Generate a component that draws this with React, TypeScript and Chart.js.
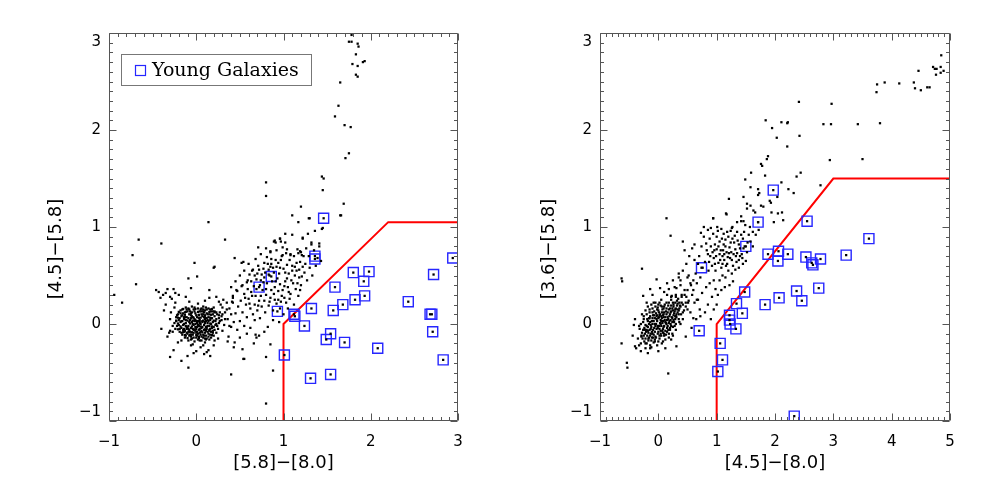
import React, { useEffect, useRef } from "react";
import { Chart, registerables } from "chart.js";
Chart.register(...registerables);

type P = [number, number];

// ---------- axis settings ----------
const leftXRange: P = [-1, 3];
const rightXRange: P = [-1, 5];
const yRange: P = [-1, 3];
const leftXTitle = "[5.8]\u2212[8.0]";
const leftYTitle = "[4.5]\u2212[5.8]";
const rightXTitle = "[4.5]\u2212[8.0]";
const rightYTitle = "[3.6]\u2212[5.8]";
const legendLabel = "Young Galaxies";

// ---------- red selection boundaries ----------
const leftBoundaryX = [1, 1, 2.2, 3];
const leftBoundaryY = [-1.05, 0, 1.05, 1.05];
const rightBoundaryX = [1, 1, 3, 5];
const rightBoundaryY = [-1.05, 0, 1.5, 1.5];

// ---------- LEFT PANEL: [5.8]-[8.0] vs [4.5]-[5.8] ----------
const leftYoung: P[] = [
  [1.46, 1.09], [1.36, 0.70], [1.36, 0.67], [0.86, 0.49], [0.72, 0.38], [0.93, 0.13], [1.12, 0.10], [1.13, 0.08],
  [1.24, -0.02], [1.32, 0.16], [1.01, -0.32], [1.31, -0.56], [1.54, -0.52], [1.49, -0.16], [1.54, -0.10], [1.70, -0.19],
  [1.57, 0.14], [1.59, 0.38], [1.68, 0.20], [1.80, 0.53], [1.82, 0.25], [1.92, 0.44], [1.98, 0.54], [1.93, 0.29],
  [2.08, -0.25], [2.43, 0.23], [2.72, 0.51], [2.68, 0.10], [2.70, 0.10], [2.71, -0.08], [2.83, -0.37], [2.94, 0.68],
];

const leftCluster: P[] = [
  [-0.12, 0.17], [-0.05, 0.18], [0.02, 0.16], [0.08, 0.18], [0.14, 0.16], [0.20, 0.17],
  [-0.18, 0.14], [-0.10, 0.13], [-0.03, 0.15], [0.04, 0.13], [0.10, 0.14], [0.17, 0.13], [0.23, 0.12],
  [-0.21, 0.10], [-0.15, 0.11], [-0.08, 0.10], [-0.01, 0.11], [0.06, 0.10], [0.12, 0.11], [0.19, 0.10], [0.26, 0.09],
  [-0.23, 0.07], [-0.17, 0.08], [-0.11, 0.07], [-0.05, 0.08], [0.01, 0.07], [0.07, 0.08], [0.14, 0.07], [0.21, 0.08],
  [-0.20, 0.04], [-0.14, 0.05], [-0.07, 0.04], [-0.02, 0.05], [0.04, 0.04], [0.10, 0.05], [0.16, 0.04], [0.23, 0.05], [0.29, 0.04],
  [-0.25, 0.01], [-0.18, 0.02], [-0.12, 0.01], [-0.05, 0.02], [0.01, 0.01], [0.07, 0.02], [0.13, 0.01], [0.19, 0.02], [0.26, 0.01],
  [-0.22, -0.02], [-0.15, -0.01], [-0.09, -0.02], [-0.03, -0.01], [0.03, -0.02], [0.09, -0.01], [0.15, -0.02], [0.22, -0.01],
  [-0.24, -0.05], [-0.17, -0.04], [-0.11, -0.05], [-0.06, -0.04], [0.00, -0.05], [0.06, -0.04], [0.12, -0.05], [0.18, -0.04], [0.25, -0.05],
  [-0.19, -0.08], [-0.13, -0.07], [-0.07, -0.08], [-0.01, -0.07], [0.05, -0.08], [0.11, -0.07], [0.17, -0.08], [0.23, -0.09],
  [-0.16, -0.11], [-0.10, -0.10], [-0.04, -0.11], [0.02, -0.10], [0.08, -0.11], [0.14, -0.10], [0.20, -0.12],
  [-0.13, -0.14], [-0.06, -0.13], [0.00, -0.14], [0.06, -0.13], [0.12, -0.15], [0.17, -0.14],
  [-0.09, -0.17], [-0.02, -0.18], [0.04, -0.17], [0.10, -0.19],
  [-0.09, 0.16], [-0.02, 0.13], [0.05, 0.15], [0.11, 0.17], [-0.13, 0.12], [0.00, 0.09], [0.09, 0.12], [0.15, 0.10],
  [-0.19, 0.06], [-0.09, 0.06], [0.03, 0.06], [0.12, 0.06], [0.18, 0.06], [-0.16, 0.03], [-0.08, 0.02], [-0.02, 0.03],
  [0.05, 0.00], [0.11, 0.03], [0.17, 0.00], [-0.20, -0.01], [-0.12, -0.02], [-0.01, -0.03], [0.07, -0.03], [0.13, -0.02],
  [0.20, -0.03], [-0.15, -0.06], [-0.09, -0.05], [-0.03, -0.06], [0.03, -0.06], [0.09, -0.06], [0.15, -0.06], [-0.17, -0.09],
  [-0.11, -0.09], [-0.03, -0.09], [0.04, -0.09], [0.10, -0.09], [0.16, -0.11], [-0.08, -0.12], [0.01, -0.12], [0.08, -0.14],
  [-0.05, -0.15], [0.02, -0.16], [0.07, 0.03], [-0.04, 0.00], [0.02, -0.01], [0.14, 0.03], [-0.06, 0.11], [0.08, 0.10],
  [0.21, 0.13], [-0.16, 0.15],
  [-0.15, 0.155], [-0.08, 0.15], [-0.01, 0.155], [0.06, 0.16], [0.12, 0.15], [0.18, 0.155],
  [-0.20, 0.125], [-0.12, 0.125], [-0.05, 0.12], [0.02, 0.125], [0.08, 0.13], [0.15, 0.125], [0.21, 0.12],
  [-0.22, 0.09], [-0.13, 0.095], [-0.06, 0.09], [0.03, 0.095], [0.10, 0.09], [0.17, 0.095], [0.24, 0.10],
  [-0.21, 0.065], [-0.14, 0.07], [-0.03, 0.065], [0.05, 0.065], [0.10, 0.07], [0.16, 0.065], [0.26, 0.06],
  [-0.23, 0.035], [-0.17, 0.03], [-0.10, 0.035], [-0.04, 0.035], [0.02, 0.03], [0.08, 0.035], [0.13, 0.04], [0.20, 0.035], [0.27, 0.03],
  [-0.21, 0.005], [-0.14, 0.0], [-0.07, 0.005], [-0.01, 0.0], [0.04, 0.005], [0.10, 0.01], [0.16, 0.005], [0.23, 0.0],
  [-0.18, -0.025], [-0.11, -0.03], [-0.05, -0.025], [0.01, -0.03], [0.05, -0.025], [0.11, -0.03], [0.18, -0.025], [0.24, -0.02],
  [-0.21, -0.055], [-0.14, -0.05], [-0.08, -0.06], [-0.02, -0.055], [0.04, -0.05], [0.10, -0.055], [0.16, -0.05], [0.21, -0.06],
  [-0.15, -0.085], [-0.09, -0.08], [-0.05, -0.085], [0.01, -0.08], [0.07, -0.085], [0.13, -0.08], [0.19, -0.09],
  [-0.13, -0.115], [-0.06, -0.11], [0.00, -0.115], [0.05, -0.11], [0.11, -0.12], [0.18, -0.115],
  [-0.10, -0.145], [-0.03, -0.14], [0.03, -0.145], [0.10, -0.15], [0.15, -0.16],
  [-0.16, 0.09], [-0.12, 0.04], [-0.07, 0.13], [-0.04, 0.07], [0.00, 0.03], [0.03, 0.09], [0.06, 0.13], [0.09, 0.07],
  [0.13, 0.10], [0.17, 0.06], [0.19, 0.13], [-0.19, -0.05], [-0.14, -0.08], [-0.10, -0.04], [-0.07, -0.11], [-0.04, -0.05],
  [0.00, -0.09], [0.03, -0.13], [0.06, -0.07], [0.09, -0.12], [0.12, -0.03], [0.14, -0.13], [0.19, -0.07], [0.22, 0.03],
  [-0.23, 0.03], [-0.18, 0.11], [-0.11, 0.15], [-0.02, 0.17], [0.08, 0.15], [0.16, 0.15], [-0.06, -0.16], [0.06, -0.17],
  [0.11, -0.16], [-0.12, -0.12], [0.15, -0.07], [-0.01, 0.04], [0.04, 0.02], [-0.06, 0.06], [0.10, 0.02], [-0.13, 0.07],
  [0.27, 0.12], [-0.27, -0.08], [0.30, -0.07], [-0.25, 0.17], [0.28, 0.20], [-0.30, 0.05], [0.25, -0.15], [0.33, 0.05],
  [-0.33, -0.13], [0.10, 0.24], [-0.08, 0.23], [0.05, -0.24], [-0.06, -0.22], [0.35, 0.15], [-0.35, 0.20], [0.38, -0.02],
  [0.20, -0.22], [-0.21, -0.19], [0.31, 0.25], [-0.28, 0.26], [0.15, 0.27], [-0.12, 0.28], [0.40, 0.10], [-0.40, -0.05],
  [0.23, 0.28], [0.36, -0.18], [-0.26, -0.27], [0.12, -0.29], [-0.03, -0.30], [0.42, 0.22],
  [-0.29, 0.12], [-0.27, -0.02], [0.30, 0.10], [0.32, -0.01], [-0.24, 0.22], [0.26, 0.23], [0.02, 0.21], [-0.04, -0.21],
  [0.08, -0.22], [-0.17, -0.17], [0.21, -0.17], [-0.31, -0.09],
];

const leftSwarm: P[] = [
  [0.70, 0.52], [0.74, 0.45], [0.78, 0.48], [0.81, 0.42], [0.84, 0.50], [0.87, 0.44], [0.90, 0.38], [0.93, 0.47],
  [0.96, 0.41], [0.99, 0.35], [1.02, 0.44], [1.05, 0.38], [1.08, 0.31], [1.11, 0.42], [1.14, 0.36], [1.17, 0.29],
  [1.20, 0.40], [0.76, 0.35], [0.80, 0.30], [0.85, 0.27], [0.89, 0.31], [0.94, 0.25], [0.98, 0.29], [1.03, 0.22],
  [1.07, 0.26], [1.12, 0.20], [0.66, 0.39], [0.63, 0.33], [0.68, 0.29], [0.72, 0.24], [0.60, 0.26], [0.57, 0.20],
  [0.62, 0.16], [0.55, 0.31], [0.51, 0.24], [0.48, 0.18], [0.53, 0.12], [0.45, 0.11], [0.58, 0.07], [0.65, 0.10],
  [0.70, 0.14], [0.75, 0.18], [0.79, 0.12], [0.83, 0.19], [0.88, 0.14], [0.92, 0.21], [0.96, 0.16], [1.00, 0.10],
  [0.67, 0.04], [0.73, 0.06], [0.50, 0.03], [0.43, 0.02], [0.55, -0.02], [0.62, -0.04], [0.47, -0.06], [0.40, -0.03],
  [0.36, 0.05], [0.33, 0.12], [0.38, 0.16], [0.35, 0.22], [0.30, 0.17], [0.29, 0.08], [0.42, 0.27], [0.47, 0.34],
  [0.53, 0.40], [0.59, 0.45], [0.64, 0.55], [0.71, 0.60], [0.77, 0.57], [0.82, 0.62], [0.88, 0.58], [0.94, 0.63],
  [1.00, 0.57], [1.06, 0.52], [1.10, 0.60], [1.15, 0.55], [1.18, 0.48], [1.24, 0.53], [1.27, 0.45], [1.25, 0.62],
  [1.30, 0.58], [1.33, 0.50], [1.29, 0.70], [1.35, 0.76], [1.39, 0.68], [1.41, 0.80], [1.32, 0.84], [1.26, 0.78],
  [1.16, 0.77], [1.12, 0.70], [1.07, 0.66], [1.03, 0.73], [0.98, 0.70], [0.92, 0.76], [0.86, 0.67], [0.80, 0.78],
  [0.74, 0.72], [0.60, 0.62], [0.55, 0.55], [0.50, 0.50], [0.45, 0.44], [0.40, 0.38], [1.37, 0.60], [1.43, 0.65],
  [0.88, 0.04], [0.82, -0.03], [0.95, 0.02], [0.78, -0.08], [0.72, -0.12], [0.58, -0.10], [0.50, -0.14], [0.66, -0.20],
  [1.05, 0.16], [0.44, 0.68], [0.52, 0.63], [0.54, 0.64], [0.65, 0.56], [0.68, 0.67], [0.71, 0.79], [0.78, 0.63],
  [0.81, 0.69], [0.85, 0.74], [0.89, 0.85], [0.91, 0.84], [0.96, 0.88], [0.97, 0.85], [0.99, 0.79], [1.04, 0.77],
  [1.08, 0.72], [1.15, 0.63], [1.22, 0.59], [1.21, 0.49], [1.10, 0.55], [1.04, 0.61], [0.97, 0.66], [0.92, 0.59],
  [0.85, 0.59], [0.83, 0.51], [0.75, 0.51], [0.69, 0.46], [0.61, 0.51], [0.58, 0.43], [0.52, 0.39], [0.46, 0.35],
  [0.42, 0.29], [0.41, 0.23], [0.68, -0.11], [0.69, -0.14], [0.44, -0.19], [0.53, -0.26],
  [0.73, 0.40], [0.77, 0.43], [0.80, 0.36], [0.86, 0.35], [0.91, 0.44], [0.94, 0.34], [1.01, 0.39], [1.04, 0.47],
  [1.09, 0.45], [1.13, 0.50], [1.16, 0.42], [1.19, 0.35], [0.95, 0.52], [0.89, 0.53], [0.83, 0.56], [0.79, 0.53],
  [0.72, 0.56], [0.67, 0.50], [0.63, 0.44], [0.69, 0.36], [0.74, 0.29], [0.78, 0.24], [0.84, 0.23], [0.90, 0.25],
  [0.97, 0.23], [1.01, 0.27], [1.06, 0.33], [0.64, 0.29], [0.59, 0.36], [0.56, 0.27], [0.61, 0.21], [0.67, 0.20],
  [0.71, 0.19], [0.86, 0.62], [0.91, 0.66], [0.96, 0.58], [1.02, 0.53], [1.13, 0.59], [1.19, 0.64], [1.23, 0.70],
  [1.18, 0.56],
];

const leftBranch: P[] = [
  [1.78, 2.98], [1.75, 2.91], [1.78, 2.91], [1.85, 2.89], [1.86, 2.86], [1.83, 2.78], [1.93, 2.71], [1.91, 2.70],
  [1.79, 2.68], [1.85, 2.66], [1.83, 2.57], [1.85, 2.55], [1.65, 2.49], [1.63, 2.25], [1.59, 2.14], [1.70, 2.05],
  [1.77, 2.03], [1.75, 1.76], [1.71, 1.71], [1.44, 1.52], [1.46, 1.50], [1.45, 1.38], [1.69, 1.24], [1.20, 1.21],
  [1.10, 1.12], [1.66, 1.12], [1.29, 1.09], [1.17, 1.05], [1.45, 0.99], [1.44, 0.98], [1.02, 0.93], [1.10, 0.92],
  [1.36, 0.96], [1.28, 0.93], [0.96, 0.88], [0.90, 0.86], [1.22, 0.88], [1.02, 0.84], [1.32, 0.82], [1.41, 0.83],
  [1.19, 0.75], [0.99, 0.71], [1.08, 0.71], [1.21, 0.71], [0.85, 0.75], [0.80, 1.46], [0.80, 1.32],
];

const leftOutliers: P[] = [
  [-0.66, 0.87], [-0.73, 0.71], [-0.40, 0.83], [0.14, 1.05], [0.33, 0.87], [-0.69, 0.41], [-0.85, 0.22], [-0.94, 0.30],
  [-0.02, 0.63], [0.01, 0.49], [0.20, 0.58], [-0.09, 0.47], [-0.06, 0.37], [0.21, 0.59], [0.15, 0.35], [0.80, -0.82],
  [0.40, -0.52], [0.88, -0.48], [0.80, -0.34], [0.55, -0.36], [-0.09, -0.45], [-0.30, -0.34], [-0.17, -0.38], [0.85, -0.21],
  [-0.46, 0.35], [-0.33, 0.36], [-0.26, 0.36], [-0.37, 0.14], [-0.30, -0.07], [-0.10, -0.33], [0.00, -0.28], [0.09, -0.31],
  [0.14, -0.27], [0.16, -0.33], [0.37, -0.13], [0.43, -0.24], [0.54, -0.36], [-0.43, 0.33], [-0.38, 0.30],
  [-0.35, 0.32], [-0.30, 0.28], [-0.41, 0.27], [-0.24, 0.32], [-0.20, 0.30], [1.22, 0.89], [1.17, 0.73], [1.20, 0.74],
  [1.30, 1.09], [1.65, 1.12],
];

// ---------- RIGHT PANEL: [4.5]-[8.0] vs [3.6]-[5.8] ----------
const rightYoung: P[] = [
  [1.97, 1.38], [1.71, 1.05], [2.55, 1.06], [3.61, 0.88], [1.50, 0.80], [0.74, 0.58], [1.88, 0.72], [2.06, 0.75],
  [2.05, 0.65], [2.22, 0.72], [2.53, 0.69], [2.63, 0.63], [2.65, 0.61], [2.78, 0.67], [3.22, 0.71], [1.48, 0.33],
  [1.34, 0.21], [1.83, 0.20], [2.07, 0.27], [2.37, 0.34], [2.46, 0.24], [2.75, 0.37], [1.22, 0.09], [1.22, 0.04],
  [1.44, 0.11], [1.23, 0.00], [1.33, -0.05], [0.70, -0.07], [1.06, -0.20], [1.10, -0.37], [1.02, -0.49], [2.33, -0.95],
];

const rightCluster: P[] = [
  [-0.15, 0.06], [-0.07, 0.09], [0.01, 0.12], [0.09, 0.16], [0.17, 0.19], [0.25, 0.22],
  [-0.22, -0.01], [-0.14, 0.02], [-0.06, 0.06], [0.02, 0.09], [0.10, 0.12], [0.18, 0.15], [0.26, 0.18], [0.33, 0.21],
  [-0.26, -0.06], [-0.18, -0.03], [-0.10, 0.00], [-0.02, 0.03], [0.06, 0.06], [0.14, 0.10], [0.22, 0.13], [0.30, 0.16], [0.37, 0.19],
  [-0.29, -0.12], [-0.21, -0.08], [-0.13, -0.05], [-0.05, -0.02], [0.03, 0.01], [0.11, 0.04], [0.19, 0.08], [0.27, 0.11], [0.35, 0.14],
  [-0.27, -0.15], [-0.19, -0.12], [-0.11, -0.08], [-0.03, -0.05], [0.05, -0.02], [0.13, 0.01], [0.21, 0.04], [0.29, 0.08],
  [-0.24, -0.18], [-0.16, -0.14], [-0.08, -0.11], [0.00, -0.08], [0.08, -0.05], [0.16, -0.02], [0.24, 0.02],
  [-0.20, -0.20], [-0.12, -0.17], [-0.04, -0.14], [0.04, -0.10], [0.12, -0.07], [0.20, -0.04],
  [-0.10, 0.12], [-0.02, 0.15], [0.06, 0.18], [0.14, 0.22], [0.22, 0.25], [0.30, 0.28],
  [-0.14, -0.22], [-0.06, -0.18], [0.02, -0.15], [0.10, -0.12],
  [-0.18, 0.03], [-0.10, 0.06], [-0.02, 0.09], [0.06, 0.12], [0.14, 0.16], [0.22, 0.19], [0.29, 0.22],
  [-0.24, -0.04], [-0.16, 0.00], [-0.08, 0.03], [0.00, 0.06], [0.08, 0.09], [0.16, 0.12], [0.24, 0.16], [0.32, 0.19],
  [-0.28, -0.09], [-0.20, -0.06], [-0.12, -0.03], [-0.04, 0.00], [0.04, 0.04], [0.12, 0.07], [0.20, 0.10], [0.28, 0.13], [0.36, 0.16],
  [-0.25, -0.12], [-0.17, -0.09], [-0.09, -0.06], [-0.01, -0.02], [0.07, 0.01], [0.15, 0.04], [0.23, 0.07], [0.31, 0.10],
  [-0.22, -0.15], [-0.14, -0.12], [-0.06, -0.08], [0.02, -0.05], [0.10, -0.02], [0.18, 0.01], [0.26, 0.04],
  [-0.17, -0.17], [-0.09, -0.14], [-0.01, -0.10], [0.07, -0.07], [0.15, -0.04],
  [-0.25, 0.05], [-0.20, 0.10], [-0.15, 0.12], [-0.10, 0.16], [-0.05, 0.18], [0.00, 0.20], [-0.22, 0.14], [-0.30, 0.00],
  [-0.28, 0.10], [-0.18, 0.18], [-0.08, 0.22], [0.02, 0.22], [-0.12, 0.20], [-0.33, -0.02], [-0.26, 0.02],
  [0.05, -0.12], [0.10, -0.10], [0.15, -0.08], [0.20, -0.06], [0.25, -0.03], [0.30, 0.00], [0.35, 0.05], [0.12, -0.16],
  [0.18, -0.14], [0.24, -0.10], [0.30, -0.06], [0.38, 0.00], [0.06, -0.20], [0.00, -0.18], [0.22, -0.16],
  [-0.20, -0.02], [-0.15, -0.06], [-0.10, -0.10], [-0.05, -0.13], [-0.16, 0.06], [-0.11, 0.03], [-0.06, 0.00], [-0.01, -0.04],
  [0.04, -0.07], [0.09, -0.03], [0.14, 0.00], [0.19, 0.03], [0.24, 0.06], [0.29, 0.05], [-0.03, 0.08], [0.03, 0.10],
  [0.09, 0.07], [0.13, 0.13], [0.20, 0.16], [0.26, 0.20], [0.32, 0.24], [-0.07, 0.13], [0.00, 0.14], [0.07, 0.15],
  [0.11, 0.20], [0.18, 0.22], [-0.23, -0.10], [-0.17, -0.15], [-0.08, -0.19], [0.04, 0.00], [0.08, 0.03], [-0.13, -0.01],
  [0.16, 0.07], [0.21, 0.00], [0.26, 0.09], [0.33, 0.12], [0.39, 0.10], [0.40, 0.22], [0.44, 0.14], [0.47, 0.22],
  [-0.18, -0.07], [-0.13, -0.10], [-0.07, -0.04], [-0.03, 0.05], [0.01, -0.02], [0.05, 0.03], [0.09, 0.10], [0.12, 0.02],
  [0.17, 0.05], [0.21, 0.12], [0.25, 0.14], [-0.09, 0.09], [-0.14, 0.08], [-0.19, 0.05], [-0.23, -0.06], [-0.06, -0.16],
  [0.02, -0.12], [0.08, -0.09], [0.13, -0.11], [0.17, -0.06], [0.22, -0.02], [0.27, 0.02], [0.31, 0.07], [-0.01, 0.17],
  [0.04, 0.19], [0.10, 0.18], [-0.04, 0.11], [0.05, 0.08], [-0.11, -0.14], [0.01, 0.07],
  [0.34, 0.26], [0.38, 0.18], [0.35, 0.10], [0.40, 0.30], [0.30, 0.30], [0.22, 0.28], [0.15, 0.30], [0.05, 0.25],
  [-0.05, 0.22], [-0.15, 0.15], [-0.25, 0.08], [-0.32, -0.05], [-0.30, -0.20], [-0.22, -0.25], [-0.12, -0.24], [-0.02, -0.22],
  [0.08, -0.18], [0.18, -0.10], [0.28, -0.02], [0.36, 0.02], [0.42, 0.20], [0.45, 0.35], [0.38, 0.40], [0.28, 0.38],
  [0.18, 0.36], [0.10, 0.33], [-0.35, -0.15], [-0.38, -0.25], [-0.30, -0.28], [-0.18, -0.30], [-0.40, 0.05], [-0.44, -0.12],
  [0.48, 0.28], [0.50, 0.15], [0.42, 0.05], [0.25, -0.12], [0.12, -0.25], [0.00, -0.28], [-0.20, 0.22], [-0.10, 0.30],
  [0.55, 0.42], [0.60, 0.35], [0.52, 0.50], [0.25, 0.45], [0.15, 0.42], [0.35, 0.48],
];

const rightSwarm: P[] = [
  [0.85, 0.72], [0.90, 0.80], [0.95, 0.68], [1.00, 0.77], [1.05, 0.85], [1.10, 0.70], [1.15, 0.80], [1.20, 0.90],
  [1.25, 0.74], [1.30, 0.84], [1.35, 0.95], [1.40, 0.78], [1.45, 0.88], [1.55, 0.92], [0.92, 0.60], [0.98, 0.55],
  [1.03, 0.63], [1.08, 0.58], [1.13, 0.66], [1.18, 0.62], [1.23, 0.68], [1.28, 0.60], [1.33, 0.70], [1.38, 0.66],
  [1.43, 0.72], [1.48, 0.80], [1.52, 0.74], [1.58, 0.85], [1.62, 0.95], [1.24, 0.96], [1.12, 0.93], [1.00, 0.90],
  [0.94, 0.93], [0.88, 0.88], [0.82, 0.83], [0.78, 0.90], [0.74, 0.80], [0.70, 0.70], [0.80, 0.64], [0.86, 0.55],
  [0.76, 0.58], [0.68, 0.62], [0.64, 0.52], [0.60, 0.45], [0.56, 0.40], [0.66, 0.42], [0.72, 0.48], [0.50, 0.35],
  [0.45, 0.30], [0.40, 0.28], [0.52, 0.24], [0.58, 0.30], [0.62, 0.22], [0.47, 0.18], [0.42, 0.12], [0.36, 0.22],
  [0.33, 0.15], [0.30, 0.08], [0.55, 0.12], [0.68, 0.25], [0.75, 0.32], [0.82, 0.38], [0.88, 0.42], [0.95, 0.45],
  [0.98, 0.36], [0.92, 0.28], [0.85, 0.20], [0.80, 0.12], [0.72, 0.08], [0.65, 0.05], [1.05, 0.45], [1.10, 0.50],
  [1.15, 0.48], [1.20, 0.55], [1.26, 0.52], [1.32, 0.56], [1.38, 0.58], [1.45, 0.62], [1.50, 0.65], [1.02, 0.30],
  [1.08, 0.35], [1.14, 0.38], [1.00, 0.20], [0.95, 0.15], [0.90, 0.05], [1.22, 0.40], [1.28, 0.44], [0.78, 1.00],
  [0.85, 0.97], [0.90, 0.99], [1.07, 0.76], [1.12, 0.82], [1.17, 0.74], [1.22, 0.79], [1.27, 0.88], [1.32, 0.77],
  [1.36, 0.86], [1.42, 0.92], [1.15, 0.87], [1.05, 0.72], [1.19, 0.69], [1.29, 0.72], [1.34, 0.64], [0.97, 0.82],
  [1.02, 0.96], [1.09, 0.88], [1.40, 0.70], [1.47, 0.95], [1.57, 1.00], [1.62, 0.80], [1.67, 0.92], [1.72, 0.97],
  [0.42, 0.55], [0.48, 0.62], [0.53, 0.70], [0.45, 0.76], [0.58, 0.78], [0.62, 0.66], [0.38, 0.45], [0.50, 0.48],
  [0.35, 0.52], [0.42, 0.85], [0.73, 0.94], [0.62, 0.82],
  [0.93, 0.74], [1.03, 0.80], [1.13, 0.72], [1.24, 0.84], [1.31, 0.91], [1.38, 0.82], [1.26, 0.66], [1.16, 0.60],
  [1.06, 0.66], [0.96, 0.76], [0.87, 0.64], [0.83, 0.76], [0.97, 0.62], [1.11, 0.76], [1.21, 0.73], [1.35, 0.73],
  [1.18, 0.95], [1.08, 0.98], [0.99, 0.70], [1.46, 0.78], [1.53, 0.84], [1.44, 0.68], [1.10, 0.62], [0.89, 0.70],
];

const rightUpper: P[] = [
  [4.85, 2.77], [4.71, 2.65], [4.74, 2.63], [4.77, 2.63], [4.84, 2.65], [4.89, 2.61], [4.84, 2.59], [4.76, 2.57],
  [4.46, 2.61], [3.75, 2.47], [3.88, 2.49], [4.13, 2.48], [4.38, 2.49], [4.40, 2.43], [4.50, 2.41], [4.61, 2.44],
  [4.65, 2.44], [3.74, 2.39], [2.41, 2.29], [2.97, 2.27], [1.84, 2.10], [2.11, 2.08], [2.21, 2.07], [2.22, 2.08],
  [2.83, 2.06], [2.96, 2.06], [3.42, 2.06], [3.80, 2.07], [1.95, 2.02], [2.03, 1.92], [2.42, 1.94], [2.21, 1.83],
  [1.88, 1.73], [1.86, 1.70], [1.76, 1.65], [1.78, 1.63], [2.94, 1.69], [3.50, 1.70], [1.59, 1.56], [1.83, 1.53],
  [2.37, 1.52], [2.44, 1.56], [2.78, 1.43], [1.49, 1.49], [1.58, 1.41], [1.71, 1.39], [2.11, 1.46], [2.23, 1.39],
  [2.32, 1.35], [1.21, 1.29], [1.46, 1.31], [1.71, 1.33], [1.73, 1.35], [1.52, 1.24], [1.58, 1.22], [1.76, 1.22],
  [1.80, 1.21], [1.91, 1.27], [1.93, 1.25], [2.04, 1.31], [1.16, 1.14], [0.94, 1.09], [1.42, 1.11], [1.63, 1.17],
  [1.66, 1.15], [1.94, 1.15], [2.05, 1.14], [2.12, 1.15], [1.42, 1.06], [1.46, 1.06], [1.35, 1.05], [1.49, 1.02],
  [1.98, 1.05], [2.14, 1.07], [1.71, 1.05], [1.01, 1.00], [1.26, 0.99], [1.27, 1.00], [1.52, 1.19],
];

const rightOutliers: P[] = [
  [-0.63, 0.47], [-0.62, 0.44], [-0.54, -0.40], [-0.53, -0.45], [0.17, -0.51], [-0.63, -0.20], [0.14, 1.09], [0.21, 0.91],
  [-0.28, 0.57], [0.94, 1.09], [1.17, 1.13], [-0.42, -0.01], [-0.40, -0.23], [-0.33, -0.22], [-0.29, -0.13], [-0.22, -0.20],
  [-0.14, -0.25], [-0.26, 0.29], [-0.14, 0.36], [-0.03, 0.46], [0.03, 0.37], [0.31, 0.37], [0.23, 0.29], [0.29, 0.15],
  [0.60, 0.06], [0.71, 0.15], [0.66, 0.25], [0.51, 0.22], [0.57, -0.04], [0.31, -0.23], [0.47, -0.13],
];

// ---------- helpers ----------
const toXY = (pts: P[]) => pts.map(([x, y]) => ({ x, y }));
const zip = (xs: number[], ys: number[]) => xs.map((x, i) => ({ x, y: ys[i] }));
const fmt = (v: number) => (v < 0 ? "\u2212" + Math.abs(v) : String(v));

const AXIS_COLOR = "#555";
const BLUE = "rgb(38,38,255)";
const FONT = "'DejaVu Sans', 'Liberation Sans', sans-serif";

const framePlugin = {
  id: "frame",
  afterDatasetsDraw(chart: any, _args: any, opts: any) {
    const { ctx, chartArea: a, scales } = chart;
    const xs = scales.x;
    const ys = scales.y;
    ctx.save();
    ctx.strokeStyle = AXIS_COLOR;
    ctx.lineWidth = 1;
    const L = Math.round(a.left) + 0.5;
    const R = Math.round(a.right) - 0.5;
    const T = Math.round(a.top) + 0.5;
    const B = Math.round(a.bottom) - 0.5;
    ctx.beginPath();
    ctx.rect(L, T, R - L, B - T);
    const sub = 10;
    for (let i = Math.round(xs.min * sub); i <= Math.round(xs.max * sub); i++) {
      const px = Math.round(xs.getPixelForValue(i / sub)) + 0.5;
      const len = i % sub === 0 ? 7 : 3.5;
      ctx.moveTo(px, B);
      ctx.lineTo(px, B - len);
      ctx.moveTo(px, T);
      ctx.lineTo(px, T + len);
    }
    for (let i = Math.round(ys.min * sub); i <= Math.round(ys.max * sub); i++) {
      const py = Math.round(ys.getPixelForValue(i / sub)) + 0.5;
      const len = i % sub === 0 ? 7 : 3.5;
      ctx.moveTo(L, py);
      ctx.lineTo(L + len, py);
      ctx.moveTo(R, py);
      ctx.lineTo(R - len, py);
    }
    ctx.stroke();

    if (opts && opts.yTitle) {
      ctx.fillStyle = "#000";
      ctx.font = `18px ${FONT}`;
      ctx.textAlign = "center";
      ctx.textBaseline = "middle";
      ctx.translate(opts.yTitleX, opts.yTitleY);
      ctx.rotate(-Math.PI / 2);
      ctx.fillText(opts.yTitle, 0, 0);
    }
    ctx.restore();
  },
};

const legendPlugin = {
  id: "boxLegend",
  afterDraw(chart: any, _args: any, opts: any) {
    if (!opts || !opts.show) return;
    const { ctx } = chart;
    ctx.save();
    ctx.strokeStyle = "#777";
    ctx.lineWidth = 1;
    ctx.strokeRect(opts.x + 0.5, opts.y + 0.5, opts.w, opts.h);
    ctx.strokeStyle = BLUE;
    ctx.lineWidth = 1.2;
    ctx.strokeRect(opts.x + 14.5, opts.y + 11.5, 10, 10);
    ctx.fillStyle = "#000";
    ctx.font = "19px 'DejaVu Serif', 'Liberation Serif', serif";
    ctx.textAlign = "left";
    ctx.textBaseline = "alphabetic";
    ctx.fillText(opts.text, opts.x + 31, opts.y + 22);
    ctx.restore();
  },
};

function buildConfig(p: {
  xRange: P;
  black: P[];
  young: P[];
  bx: number[];
  by: number[];
  xTitle: string;
  yTitle: string;
  yAxisWidth: number;
  padRight: number;
  yTitleX: number;
  legend: boolean;
}): any {
  const yLabel = (v: number) => {
    if (v === yRange[1]) return ["", fmt(v)];
    if (v === yRange[0]) return [fmt(v), ""];
    return fmt(v);
  };
  return {
    type: "scatter",
    data: {
      datasets: [
        {
          label: "sources",
          data: toXY(p.black),
          pointStyle: "rect",
          pointRadius: 1.6,
          backgroundColor: "#000",
          borderWidth: 0,
        },
        {
          label: legendLabel,
          data: toXY(p.young),
          pointStyle: "rect",
          pointRadius: 7.1,
          backgroundColor: "rgba(0,0,0,0)",
          borderColor: BLUE,
          borderWidth: 1.4,
        },
        {
          label: "boundary",
          data: zip(p.bx, p.by),
          showLine: true,
          borderColor: "#ff0000",
          borderWidth: 2,
          pointRadius: 0,
          fill: false,
          tension: 0,
        },
      ],
    },
    options: {
      responsive: false,
      animation: false,
      events: [],
      layout: { padding: { top: 33, right: p.padRight, left: 0, bottom: 0 } },
      plugins: {
        legend: { display: false },
        tooltip: { enabled: false },
        frame: { yTitle: p.yTitle, yTitleX: p.yTitleX, yTitleY: 249 },
        boxLegend: { show: p.legend, x: 121, y: 54, w: 190, h: 31, text: legendLabel },
      },
      scales: {
        x: {
          type: "linear",
          min: p.xRange[0],
          max: p.xRange[1],
          grid: { display: false, drawTicks: false },
          border: { display: false },
          ticks: {
            stepSize: 1,
            padding: 12,
            maxRotation: 0,
            color: "#000",
            font: { size: 15, family: FONT },
            callback: (v: number) => fmt(v),
          },
          title: {
            display: true,
            text: p.xTitle,
            color: "#000",
            font: { size: 18, family: FONT },
            padding: { top: 0, bottom: 17 },
          },
          afterFit: (s: any) => {
            s.height = 70;
          },
        },
        y: {
          type: "linear",
          min: yRange[0],
          max: yRange[1],
          grid: { display: false, drawTicks: false },
          border: { display: false },
          ticks: {
            stepSize: 1,
            padding: 8,
            color: "#000",
            font: { size: 15, family: FONT },
            callback: (v: number) => yLabel(v),
          },
          afterFit: (s: any) => {
            s.width = p.yAxisWidth;
          },
        },
      },
    },
    plugins: [framePlugin, legendPlugin],
  };
}

export default function App() {
  const leftRef = useRef<HTMLCanvasElement | null>(null);
  const rightRef = useRef<HTMLCanvasElement | null>(null);

  useEffect(() => {
    Chart.defaults.font.family = FONT;
    const left = new Chart(
      leftRef.current as HTMLCanvasElement,
      buildConfig({
        xRange: leftXRange,
        black: [...leftCluster, ...leftSwarm, ...leftBranch, ...leftOutliers, ...leftYoung],
        young: leftYoung,
        bx: leftBoundaryX,
        by: leftBoundaryY,
        xTitle: leftXTitle,
        yTitle: leftYTitle,
        yAxisWidth: 109,
        padRight: 32,
        yTitleX: 56,
        legend: true,
      })
    );
    const right = new Chart(
      rightRef.current as HTMLCanvasElement,
      buildConfig({
        xRange: rightXRange,
        black: [...rightCluster, ...rightSwarm, ...rightUpper, ...rightOutliers, ...rightYoung],
        young: rightYoung,
        bx: rightBoundaryX,
        by: rightBoundaryY,
        xTitle: rightXTitle,
        yTitle: rightYTitle,
        yAxisWidth: 110,
        padRight: 31,
        yTitleX: 59,
        legend: false,
      })
    );
    return () => {
      left.destroy();
      right.destroy();
    };
  }, []);

  return (
    <div style={{ position: "fixed", left: 0, top: 0, width: 981, height: 491, background: "#fff" }}>
      <canvas ref={leftRef} width={490} height={491} style={{ position: "absolute", left: 0, top: 0, width: 490, height: 491 }} />
      <canvas ref={rightRef} width={491} height={491} style={{ position: "absolute", left: 490, top: 0, width: 491, height: 491 }} />
    </div>
  );
}
